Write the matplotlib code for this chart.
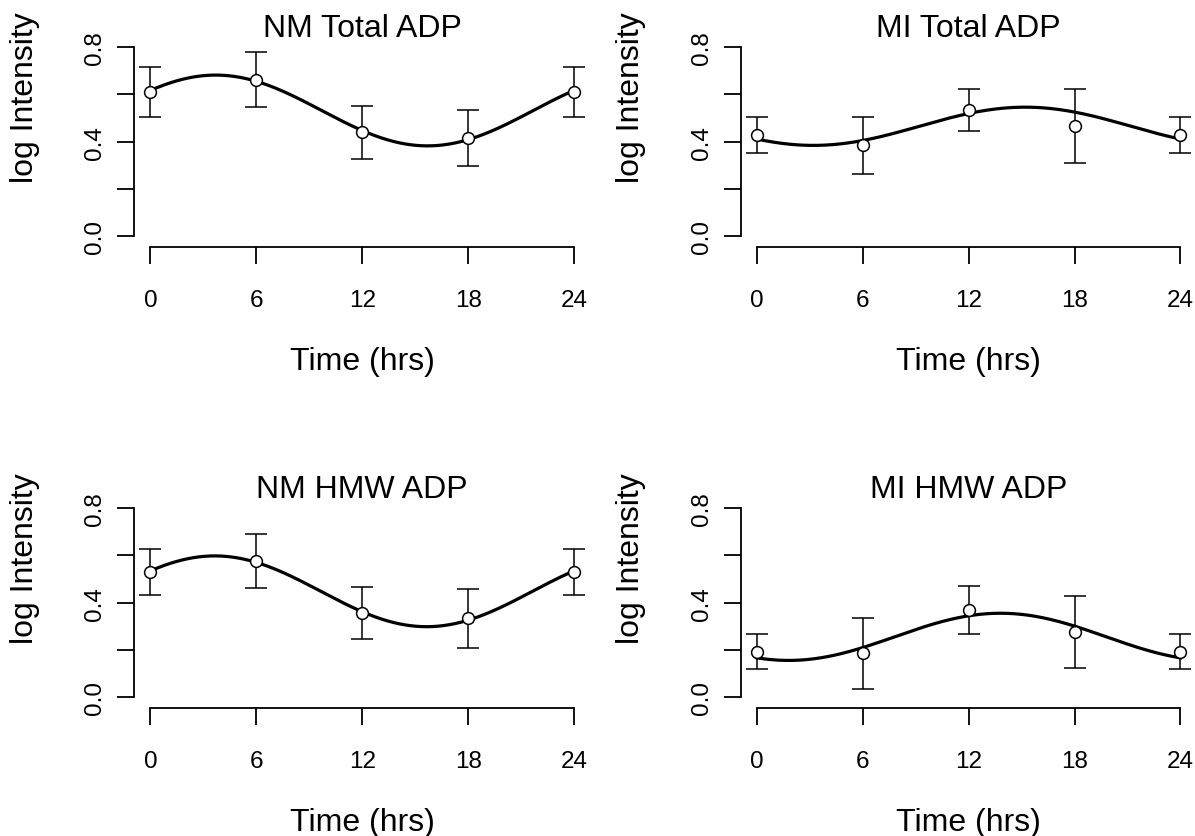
import numpy as np
import matplotlib
matplotlib.use("Agg")
import matplotlib.pyplot as plt

plt.rcParams['font.family'] = ['Liberation Sans', 'DejaVu Sans']

# ── Data ──
hours = [0, 6, 12, 18, 24]
titles = ["NM Total ADP", "MI Total ADP", "NM HMW ADP", "MI HMW ADP"]

nm_total_mean = [0.610, 0.663, 0.440, 0.415, 0.610]
nm_total_se   = [0.107, 0.117, 0.112, 0.120, 0.107]
mi_total_mean = [0.428, 0.385, 0.533, 0.466, 0.428]
mi_total_se   = [0.078, 0.121, 0.090, 0.156, 0.078]
nm_hmw_mean   = [0.530, 0.576, 0.356, 0.333, 0.530]
nm_hmw_se     = [0.099, 0.116, 0.111, 0.124, 0.099]
mi_hmw_mean   = [0.191, 0.185, 0.368, 0.277, 0.191]
mi_hmw_se     = [0.074, 0.151, 0.103, 0.153, 0.074]

# cosinor fits: mesor, amplitude, acrophase (hrs)
mesor     = [0.532, 0.465, 0.448, 0.255]
amplitude = [0.150, 0.081, 0.150, 0.100]
acrophase = [3.70, 15.20, 3.65, 13.80]

means = [nm_total_mean, mi_total_mean, nm_hmw_mean, mi_hmw_mean]
ses   = [nm_total_se, mi_total_se, nm_hmw_se, mi_hmw_se]

# ── Figure ──
W, H = 1195, 837
fig = plt.figure(figsize=(W/100, H/100), dpi=100)

# panel geometry in pixels
ax_w, ax_h = 456.4, 208.7
lefts   = [134, 740.5]
bottoms = [247.5, 708.5]   # from top
XLIM = (-0.93, 24.93)
YLIM = (-0.0445, 0.84)

t_fit = np.linspace(0, 24, 300)

for k in range(4):
    r, c = divmod(k, 2)
    ax = fig.add_axes([lefts[c]/W, (H - bottoms[r])/H, ax_w/W, ax_h/H])
    ax.set_xlim(*XLIM)
    ax.set_ylim(*YLIM)

    y_fit = mesor[k] + amplitude[k]*np.cos(2*np.pi*(t_fit - acrophase[k])/24)
    ax.plot(t_fit, y_fit, color='black', lw=2.3, zorder=3)
    ax.errorbar(hours, means[k], yerr=ses[k], fmt='o', mfc='white', mec='black',
                mew=1.1, ms=8.5, ecolor='black', elinewidth=1.1, capsize=8,
                capthick=1.1, color='black', zorder=4)

    for s in ['top', 'right']:
        ax.spines[s].set_visible(False)
    ax.spines['left'].set_bounds(0, 0.8)
    ax.spines['bottom'].set_bounds(0, 24)
    for s in ['left', 'bottom']:
        ax.spines[s].set_linewidth(1.3)

    ax.set_xticks(hours)
    ax.set_xticklabels([str(h) for h in hours])
    ax.set_yticks([0, 0.2, 0.4, 0.6, 0.8])
    ax.set_yticklabels(["0.0", "", "0.4", "", "0.8"])
    ax.tick_params(axis='x', length=12, width=1.3, labelsize=17.5, pad=18.5)
    ax.tick_params(axis='y', length=12, width=1.3, labelsize=17.5, pad=8)
    plt.setp(ax.get_yticklabels(), rotation=90, va='center')

    ax.text(0.5, (247.5 - 37)/ax_h, titles[k], transform=ax.transAxes,
            ha='center', va='baseline', fontsize=23)
    ax.text(0.5, -122.5/ax_h, "Time (hrs)", transform=ax.transAxes,
            ha='center', va='baseline', fontsize=23)
    ax.text(-109/ax_w, 150/ax_h, "log Intensity", transform=ax.transAxes,
            ha='center', va='center', rotation=90, fontsize=23)

fig.savefig("out.png", dpi=100)
